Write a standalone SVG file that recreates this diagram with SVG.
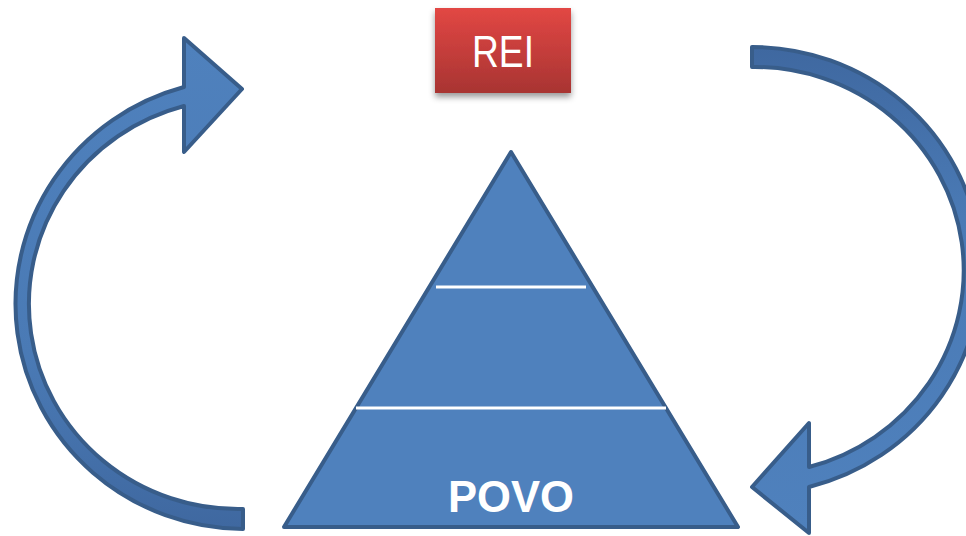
<svg xmlns="http://www.w3.org/2000/svg" width="966" height="536" viewBox="0 0 966 536">
<defs>
<linearGradient id="red" x1="0" y1="0" x2="0" y2="1">
<stop offset="0" stop-color="#e24744"/>
<stop offset="1" stop-color="#a83432"/>
</linearGradient>
<linearGradient id="lg" x1="0" y1="1" x2="0" y2="0">
<stop offset="0" stop-color="#3f68a0"/>
<stop offset="0.35" stop-color="#4a7ab5"/>
<stop offset="1" stop-color="#4f81bd"/>
</linearGradient>
<linearGradient id="rg" x1="0" y1="0" x2="0" y2="1">
<stop offset="0" stop-color="#3f68a0"/>
<stop offset="0.35" stop-color="#4a7ab5"/>
<stop offset="1" stop-color="#4f81bd"/>
</linearGradient>
<filter id="sh" x="-20%" y="-20%" width="140%" height="150%">
<feDropShadow dx="0" dy="4" stdDeviation="3" flood-color="#000" flood-opacity="0.4"/>
</filter>
<style>
.arrow{stroke:#385d8a;stroke-width:4;stroke-linejoin:round}
.tri{fill:#4f81bd;stroke:#385d8a;stroke-width:4;stroke-linejoin:round}
.sep{stroke:#ffffff;stroke-width:3}
.lbl{fill:#ffffff;font-family:"Liberation Sans",Arial,sans-serif;text-anchor:middle}
</style>
</defs>
<g id="connectors">
<path id="arrow-left" class="arrow" fill="url(#lg)" d="M 243 529 A 229 225 0 0 1 184 87 L 184 38 L 242 89 L 184 152 L 184 106 A 209 205 0 0 0 243 509 Z"/>
<path id="arrow-right" class="arrow" fill="url(#rg)" d="M 752 47 A 229 223.5 0 0 1 809 487 L 809 533 L 752 487 L 809 423 L 809 467 A 209 203.5 0 0 0 752 67 Z"/>
</g>
<g id="rei">
<rect x="435" y="8" width="136" height="85" fill="url(#red)" filter="url(#sh)"/>
<text class="lbl" x="503" y="67" font-size="44" textLength="62" lengthAdjust="spacingAndGlyphs">REI</text>
</g>
<g id="povo">
<polygon class="tri" points="511,152 738,527 284,527"/>
<line class="sep" x1="436" y1="287" x2="586" y2="287"/>
<line class="sep" x1="356" y1="408" x2="666" y2="408"/>
<text class="lbl" x="511" y="512" font-size="45" font-weight="bold" textLength="126" lengthAdjust="spacingAndGlyphs">POVO</text>
</g>
</svg>
